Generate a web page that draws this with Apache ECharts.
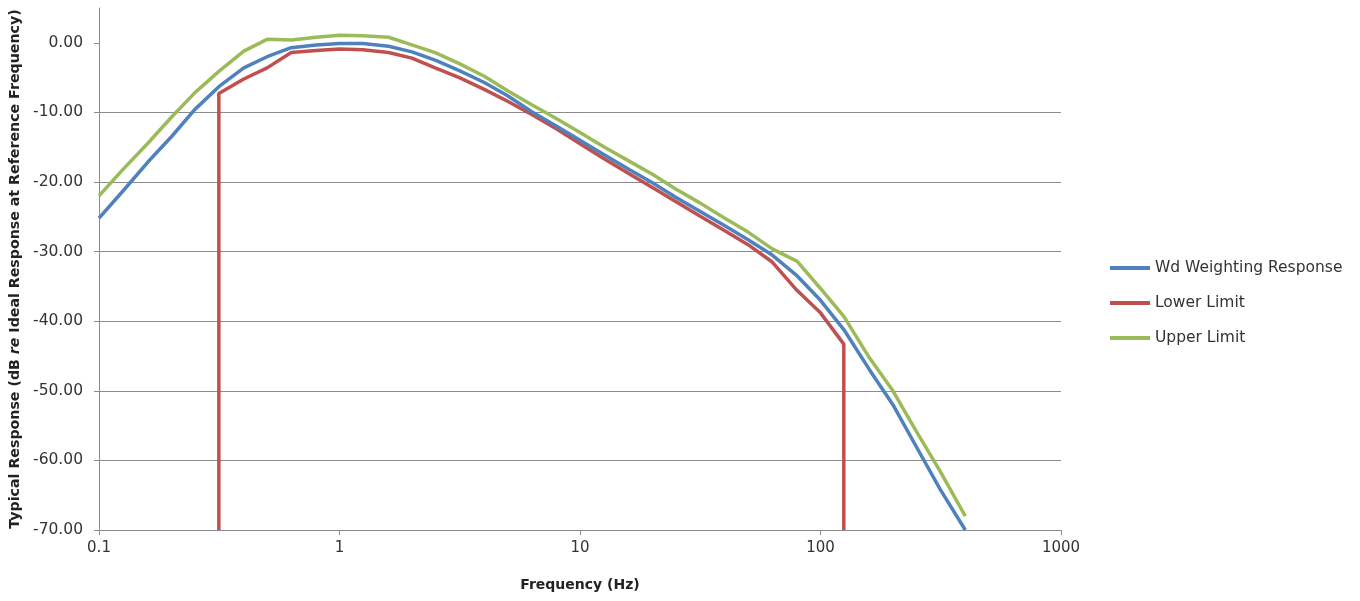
<!DOCTYPE html>
<html>
<head>
<meta charset="utf-8">
<script src="https://cdn.jsdelivr.net/npm/echarts@6/dist/echarts.min.js"></script>
<style>html,body{margin:0;padding:0;background:#fff}#c{width:1360px;height:601px}</style>
</head>
<body>
<div id="c"></div>
<script>
// Frequencies (Hz), third-octave bands
const freqs = [0.1,0.125,0.16,0.2,0.25,0.315,0.4,0.5,0.63,0.8,1,1.25,1.6,2,2.5,3.15,4,5,6.3,8,10,12.5,16,20,25,31.5,40,50,63,80,100,125,160,200,250,315,400];
// Wd weighting response (dB)
const wdResponse = [-25.2,-21.4,-17.1,-13.5,-9.6,-6.3,-3.6,-2.0,-0.7,-0.3,-0.1,-0.1,-0.5,-1.3,-2.5,-4.0,-5.7,-7.6,-9.9,-12.0,-14.0,-16.0,-18.2,-20.1,-22.2,-24.2,-26.3,-28.3,-30.5,-33.5,-37.0,-41.2,-47.0,-52.0,-58.0,-64.2,-70.0];
// Upper limit (dB)
const upperLimit = [-22.0,-18.3,-14.4,-10.7,-7.2,-4.1,-1.2,0.5,0.4,0.8,1.1,1.0,0.8,-0.3,-1.4,-3.0,-4.8,-6.9,-8.9,-10.9,-12.9,-14.9,-17.0,-18.9,-21.0,-23.0,-25.2,-27.2,-29.6,-31.4,-35.3,-39.3,-45.3,-50.0,-55.8,-61.6,-68.0];
// Lower limit (dB) with its own frequency list (vertical drops at the band edges)
const lowerFreqs = [0.315,0.315,0.4,0.5,0.63,0.8,1,1.25,1.6,2,2.5,3.15,4,5,6.3,8,10,12.5,16,20,25,31.5,40,50,63,80,100,125,125];
const lowerLimit = [-70,-7.3,-5.2,-3.6,-1.4,-1.1,-0.9,-1.0,-1.4,-2.2,-3.6,-5.0,-6.7,-8.4,-10.3,-12.4,-14.5,-16.6,-18.8,-20.8,-22.8,-24.9,-27.0,-29.0,-31.5,-35.6,-38.8,-43.3,-70];
// Y tick values
const yTicks = [-70,-60,-50,-40,-30,-20,-10,0];

const pair = (xs, ys) => xs.map((x, i) => [x, ys[i]]);

const chart = echarts.init(document.getElementById('c'), null, {renderer: 'canvas'});
const gridColor = '#8c8c8c';
chart.setOption({
  animation: false,
  backgroundColor: '#ffffff',
  grid: {left: 99, right: 299, top: 8, bottom: 71, containLabel: false},
  legend: {
    orient: 'vertical', left: 1105, top: 255,
    itemWidth: 40, itemHeight: 4, itemGap: 19, icon: 'rect',
    textStyle: {fontFamily: 'DejaVu Sans', fontSize: 15.5, color: '#333'},
    data: ['Wd Weighting Response', 'Lower Limit', 'Upper Limit']
  },
  xAxis: {
    type: 'log', logBase: 10, min: 0.1, max: 1000,
    name: 'Frequency (Hz)', nameLocation: 'middle', nameGap: 48,
    nameTextStyle: {fontFamily: 'DejaVu Sans', fontSize: 14, fontWeight: 'bold', color: '#222'},
    axisLine: {show: true, onZero: false, lineStyle: {color: gridColor, width: 1}},
    axisTick: {show: true, length: 5, lineStyle: {color: gridColor}},
    minorTick: {show: false},
    splitLine: {show: false},
    axisLabel: {fontFamily: 'DejaVu Sans', fontSize: 15, color: '#333', margin: 11,
      formatter: v => String(+v.toPrecision(6))}
  },
  yAxis: {
    type: 'value', min: -70, max: 5, interval: 10,
    name: '{b|Typical Response (dB }{i|re}{b| Ideal Response at Reference Frequency)}',
    nameLocation: 'middle', nameRotate: 90, nameGap: 74,
    nameTextStyle: {rich: {
      b: {fontFamily: 'DejaVu Sans', fontSize: 14.2, fontWeight: 'bold', color: '#222'},
      i: {fontFamily: 'DejaVu Sans', fontSize: 14.2, fontWeight: 'bold', fontStyle: 'italic', color: '#222'}
    }},
    axisLine: {show: true, lineStyle: {color: gridColor, width: 1}},
    axisTick: {show: true, length: 5, customValues: yTicks, lineStyle: {color: gridColor}},
    splitLine: {show: true, showMaxLine: false, lineStyle: {color: gridColor, width: 1}},
    axisLabel: {fontFamily: 'DejaVu Sans', fontSize: 15.5, color: '#333', margin: 16,
      customValues: yTicks, formatter: v => v.toFixed(2)}
  },
  series: [
    {name: 'Lower Limit', type: 'line', data: pair(lowerFreqs, lowerLimit), showSymbol: false, symbol: 'none',
     lineStyle: {color: '#C0504D', width: 3.5}, itemStyle: {color: '#C0504D'}, z: 2},
    {name: 'Upper Limit', type: 'line', data: pair(freqs, upperLimit), showSymbol: false, symbol: 'none',
     lineStyle: {color: '#9BBB59', width: 3.5}, itemStyle: {color: '#9BBB59'}, z: 3},
    {name: 'Wd Weighting Response', type: 'line', data: pair(freqs, wdResponse), showSymbol: false, symbol: 'none',
     lineStyle: {color: '#4F81BD', width: 3.5}, itemStyle: {color: '#4F81BD'}, z: 4}
  ]
});
</script>
</body>
</html>
